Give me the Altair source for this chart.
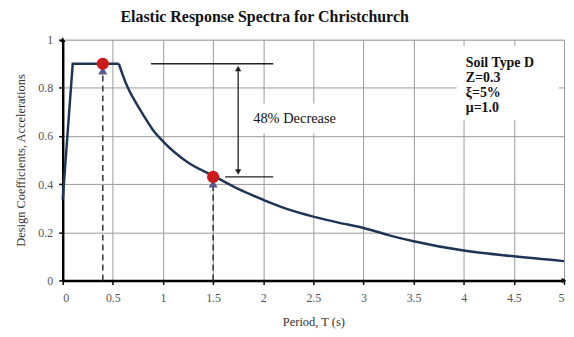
import altair as alt
import pandas as pd

# Spectrum data (period T in s, design coefficient)
period = [0, 0.1, 0.56, 0.6, 0.65, 0.7, 0.8, 0.9, 1.0, 1.25, 1.5, 1.75, 2.0, 2.25, 2.5, 2.75, 3.0, 3.25, 3.5, 4.0, 4.5, 5.0]
coef = [0.336, 0.9, 0.9, 0.852, 0.80, 0.76, 0.69, 0.625, 0.578, 0.49, 0.435, 0.38, 0.335, 0.295, 0.265, 0.24, 0.218, 0.188, 0.163, 0.124, 0.10, 0.08]

# Highlighted points
pt_T = [0.4, 1.5]
pt_C = [0.9, 0.43]

# Reference horizontal lines for the decrease annotation
hl_x1 = [0.88, 1.62]
hl_x2 = [2.1, 2.1]
hl_y = [0.9, 0.43]
arrow_x = 1.75
decrease_label = "48% Decrease"

info_lines = ["Soil Type D", "Z=0.3", "\u03be=5%", "\u03bc=1.0"]
info_y = [0.905, 0.842, 0.78, 0.717]

x_ticks = [0, 0.5, 1, 1.5, 2, 2.5, 3, 3.5, 4, 4.5, 5]
y_ticks = [0, 0.2, 0.4, 0.6, 0.8, 1]

FONT = "Liberation Serif"
W, H = 504, 242

xs = alt.Scale(domain=[0, 5], nice=False)
ys = alt.Scale(domain=[0, 1], nice=False)

curve_df = pd.DataFrame({"T": period, "C": coef})
rise_df = curve_df[curve_df["T"] <= 0.56]
decay_df = curve_df[curve_df["T"] >= 0.56]
pts_df = pd.DataFrame({"T": pt_T, "C": pt_C, "y0": [0, 0], "ya": [0.872, 0.402]})
hl_df = pd.DataFrame({"x1": hl_x1, "x2": hl_x2, "y": hl_y})

base_axis_x = alt.Axis(values=x_ticks, format="~g", title="Period, T (s)", grid=True,
                       gridColor="#9a9a9a", gridWidth=1, domainColor="black", domainWidth=2.5,
                       tickColor="black", tickSize=4, tickWidth=1.5, labelFont=FONT, labelFontSize=12,
                       labelColor="#555", titleFont=FONT, titleFontSize=12.5, titleColor="#333",
                       titleFontWeight="normal", labelPadding=8, titlePadding=12)
base_axis_y = alt.Axis(values=y_ticks, format="~g", title="Design Coefficients, Accelerations", grid=True,
                       gridColor="#9a9a9a", gridWidth=1, domainColor="black", domainWidth=2.5,
                       tickColor="black", tickSize=4, tickWidth=1.5, labelFont=FONT, labelFontSize=12,
                       labelColor="#555", titleFont=FONT, titleFontSize=12.5, titleColor="#333",
                       titleFontWeight="normal", labelPadding=6, titlePadding=10)

# White boxes behind text (interrupt gridlines)
box_df = pd.DataFrame({"x1": [3.93, 1.86], "x2": [4.95, 2.88], "y1": [0.665, 0.61], "y2": [0.975, 0.735]})
boxes = alt.Chart(box_df).mark_rect(color="white").encode(
    x=alt.X("x1:Q", scale=xs, axis=base_axis_x), x2="x2:Q",
    y=alt.Y("y1:Q", scale=ys, axis=base_axis_y), y2="y2:Q")

rise = alt.Chart(rise_df).mark_line(color="#1f3557", strokeWidth=2.5).encode(
    x=alt.X("T:Q", scale=xs), y=alt.Y("C:Q", scale=ys))
decay = alt.Chart(decay_df).mark_line(color="#1f3557", strokeWidth=2.5, interpolate="monotone").encode(
    x=alt.X("T:Q", scale=xs), y=alt.Y("C:Q", scale=ys))

dashed = alt.Chart(pts_df).mark_rule(color="#333", strokeDash=[6, 4], strokeWidth=1.5).encode(
    x=alt.X("T:Q", scale=xs), y=alt.Y("y0:Q", scale=ys), y2="ya:Q")

up_heads = alt.Chart(pts_df).mark_point(shape="triangle-up", filled=True, color="#5a5a8c", size=85, opacity=1).encode(
    x=alt.X("T:Q", scale=xs), y=alt.Y("ya:Q", scale=ys))

dots = alt.Chart(pts_df).mark_circle(color="#cc1a1a", size=150, opacity=1).encode(
    x=alt.X("T:Q", scale=xs), y=alt.Y("C:Q", scale=ys))

hlines = alt.Chart(hl_df).mark_rule(color="#222", strokeWidth=1.3).encode(
    x=alt.X("x1:Q", scale=xs), x2="x2:Q", y=alt.Y("y:Q", scale=ys))

arr_df = pd.DataFrame({"x": [arrow_x], "y1": [0.88], "y2": [0.45]})
vline = alt.Chart(arr_df).mark_rule(color="#222", strokeWidth=1.3).encode(
    x=alt.X("x:Q", scale=xs), y=alt.Y("y1:Q", scale=ys), y2="y2:Q")
heads_df = pd.DataFrame({"x": [arrow_x, arrow_x], "y": [0.88, 0.45], "s": ["triangle-up", "triangle-down"]})
heads = alt.Chart(heads_df).mark_point(filled=True, color="#222", size=40, opacity=1).encode(
    x=alt.X("x:Q", scale=xs), y=alt.Y("y:Q", scale=ys),
    shape=alt.Shape("s:N", scale=None, legend=None))

dec_df = pd.DataFrame({"x": [1.9], "y": [0.672], "t": [decrease_label]})
dec_text = alt.Chart(dec_df).mark_text(align="left", baseline="middle", font=FONT, fontSize=14.5, color="#111").encode(
    x=alt.X("x:Q", scale=xs), y=alt.Y("y:Q", scale=ys), text="t:N")

info_df = pd.DataFrame({"x": [4.02] * len(info_lines), "y": info_y, "t": info_lines})
info_text = alt.Chart(info_df).mark_text(align="left", baseline="middle", font=FONT, fontSize=14,
                                         color="#111", fontWeight="bold").encode(
    x=alt.X("x:Q", scale=xs), y=alt.Y("y:Q", scale=ys), text="t:N")

# Axis arrowheads
ax_df = pd.DataFrame({"x": [5.0, 0.0], "y": [0.0, 1.0], "s": ["triangle-right", "triangle-up"]})
ax_heads = alt.Chart(ax_df).mark_point(filled=True, color="black", size=30, opacity=1).encode(
    x=alt.X("x:Q", scale=xs), y=alt.Y("y:Q", scale=ys),
    shape=alt.Shape("s:N", scale=None, legend=None))

chart = alt.layer(boxes, rise, decay, dashed, up_heads, dots, hlines, vline, heads, dec_text, info_text, ax_heads).properties(
    width=W, height=H,
    title=alt.Title("Elastic Response Spectra for Christchurch", font=FONT, fontSize=16, fontWeight="bold",
                    color="#111", anchor="middle", offset=9, dx=-49),
    autosize=alt.AutoSizeParams(type="none"),
    padding={"left": 55, "top": 31, "right": 2, "bottom": 50},
).configure_view(stroke=None).configure(background="white")

chart.save("out.html", embed_options={"renderer": "svg", "actions": False})
